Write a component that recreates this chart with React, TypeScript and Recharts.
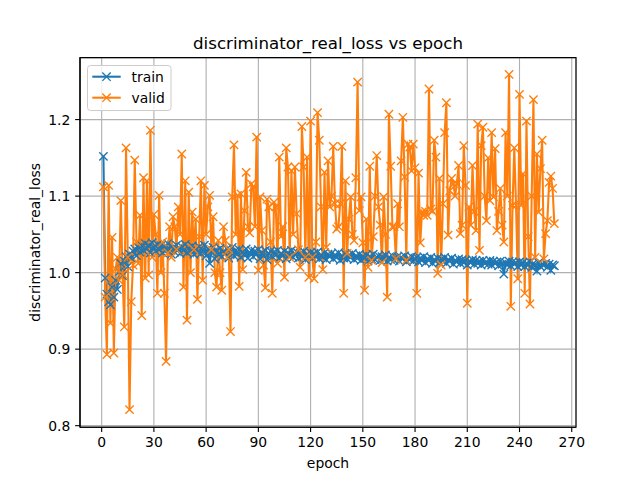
import React from 'react';
import { LineChart, Line, XAxis, YAxis, CartesianGrid, ReferenceArea, Legend, Label } from 'recharts';

const TITLE = 'discriminator_real_loss vs epoch';
const X_LABEL = 'epoch';
const Y_LABEL = 'discriminator_real_loss';

const xTicks = [0, 30, 60, 90, 120, 150, 180, 210, 240, 270];
const yTicks = [0.8, 0.9, 1.0, 1.1, 1.2];

const trainLoss = [
  1.152, 0.993, 0.972, 0.962, 0.958, 0.981, 0.968, 0.990, 0.978, 1.001,
  1.012, 0.996, 1.015, 1.021, 1.008, 1.024, 1.019, 1.028, 1.031, 1.022,
  1.033, 1.027, 1.035, 1.029, 1.038, 1.031, 1.036, 1.026, 1.039, 1.033,
  1.028, 1.037, 1.030, 1.035, 1.026, 1.034, 1.029, 1.038, 1.031, 1.024,
  1.033, 1.027, 1.036, 1.030, 1.025, 1.034, 1.029, 1.037, 1.026, 1.032,
  1.028, 1.035, 1.024, 1.031, 1.027, 1.034, 1.025, 1.030, 1.036, 1.022,
  1.031, 1.012, 1.027, 1.033, 1.018, 1.029, 1.024, 1.032, 1.021, 1.028,
  1.025, 1.031, 1.019, 1.027, 1.033, 1.022, 1.029, 1.024, 1.030, 1.020,
  1.027, 1.023, 1.031, 1.019, 1.026, 1.029, 1.021, 1.028, 1.024, 1.030,
  1.018, 1.026, 1.022, 1.029, 1.017, 1.025, 1.028, 1.021, 1.027, 1.023,
  1.029, 1.019, 1.025, 1.022, 1.028, 1.018, 1.026, 1.023, 1.029, 1.020,
  1.024, 1.027, 1.019, 1.025, 1.021, 1.028, 1.017, 1.024, 1.022, 1.026,
  1.019, 1.025, 1.021, 1.027, 1.018, 1.023, 1.020, 1.026, 1.017, 1.024,
  1.021, 1.025, 1.018, 1.023, 1.020, 1.026, 1.016, 1.022, 1.019, 1.024,
  1.018, 1.023, 1.020, 1.025, 1.017, 1.022, 1.019, 1.024, 1.016, 1.021,
  1.019, 1.023, 1.015, 1.021, 1.018, 1.024, 1.017, 1.020, 1.022, 1.016,
  1.021, 1.018, 1.023, 1.015, 1.020, 1.017, 1.022, 1.016, 1.019, 1.021,
  1.015, 1.020, 1.018, 1.022, 1.014, 1.019, 1.017, 1.021, 1.015, 1.018,
  1.020, 1.014, 1.019, 1.016, 1.021, 1.013, 1.018, 1.016, 1.020, 1.012,
  1.017, 1.015, 1.019, 1.013, 1.018, 1.016, 1.020, 1.012, 1.017, 1.015,
  1.019, 1.011, 1.016, 1.014, 1.018, 1.012, 1.017, 1.013, 1.016, 1.010,
  1.015, 1.013, 1.017, 1.011, 1.016, 1.012, 1.015, 1.010, 1.016, 1.012,
  1.014, 1.011, 1.016, 1.010, 1.015, 1.012, 1.014, 1.009, 1.015, 1.011,
  0.998, 1.013, 1.010, 1.015, 1.009, 1.014, 1.011, 1.013, 1.008, 1.014,
  1.010, 1.013, 1.008, 1.012, 1.010, 1.014, 1.007, 1.012, 1.009, 1.002,
  1.013, 1.008, 1.011, 1.010, 1.012, 1.007, 1.011, 1.003, 1.010, 1.009,
];

const validLoss = [
  1.112, 0.968, 0.893, 1.114, 0.934, 1.046, 0.895, 1.005, 1.020, 0.990,
  1.094, 0.998, 0.929, 1.163, 1.020, 0.821, 0.962, 1.010, 1.147, 1.040,
  1.012, 1.075, 0.944, 1.124, 0.993, 1.120, 0.997, 1.186, 1.020, 1.076,
  1.050, 0.973, 1.101, 1.000, 1.040, 0.973, 0.884, 1.026, 1.060, 1.020,
  1.073, 1.060, 1.030, 1.086, 1.050, 1.155, 0.981, 1.120, 0.938, 1.105,
  1.000, 1.079, 1.030, 1.070, 0.965, 1.047, 1.120, 0.990, 1.114, 1.050,
  1.086, 1.101, 1.030, 1.073, 1.000, 0.981, 1.042, 1.000, 0.977, 1.060,
  1.042, 1.020, 1.030, 0.923, 1.099, 1.167, 1.050, 1.101, 0.982, 1.103,
  1.004, 1.081, 1.131, 1.060, 1.052, 1.116, 1.112, 1.060, 1.177, 1.003,
  1.099, 1.055, 1.010, 0.980, 1.096, 1.086, 1.040, 0.973, 1.092, 1.086,
  1.012, 1.151, 1.047, 1.060, 0.994, 1.163, 1.138, 1.020, 1.133, 1.050,
  1.138, 1.077, 1.030, 1.007, 1.191, 1.138, 1.020, 1.151, 0.994, 1.198,
  1.020, 0.992, 1.040, 1.209, 1.173, 1.086, 1.004, 1.131, 1.033, 1.146,
  1.086, 1.100, 1.165, 1.090, 1.057, 1.060, 1.090, 1.165, 0.973, 1.120,
  1.025, 1.070, 1.099, 1.050, 1.042, 1.124, 1.249, 1.081, 1.099, 1.039,
  0.977, 1.070, 1.007, 1.139, 1.016, 1.047, 1.100, 1.153, 1.086, 1.062,
  1.013, 1.099, 1.050, 0.968, 1.207, 1.139, 1.060, 1.060, 1.018, 1.090,
  1.060, 1.146, 1.203, 1.125, 1.016, 1.168, 1.164, 1.133, 1.168, 1.137,
  0.973, 1.130, 1.039, 1.079, 1.075, 1.080, 1.075, 1.240, 1.083, 1.080,
  1.173, 1.151, 0.999, 1.123, 1.010, 1.090, 1.183, 1.222, 1.049, 1.107,
  1.123, 1.116, 1.100, 1.116, 1.140, 1.051, 1.062, 1.166, 1.114, 0.960,
  1.086, 1.062, 1.140, 1.080, 1.055, 1.194, 1.029, 1.166, 1.190, 1.100,
  1.068, 1.150, 1.094, 1.183, 1.099, 1.162, 1.055, 1.080, 1.110, 1.062,
  1.040, 1.183, 1.100, 1.259, 0.956, 1.088, 1.163, 1.088, 0.992, 1.233,
  1.088, 1.129, 0.973, 1.198, 1.047, 0.959, 1.100, 1.226, 1.020, 1.155,
  1.079, 1.136, 1.173, 1.018, 1.051, 1.068, 1.118, 1.126, 1.110, 1.064,
];

const SERIES = [
  { key: 'train', color: '#1f77b4' },
  { key: 'valid', color: '#ff7f0e' },
];

const data = trainLoss.map((t, i) => ({ epoch: i + 1, train: t, valid: validLoss[i] }));

const X_DOMAIN: [number, number] = [-12.45, 272.45];
const Y_DOMAIN: [number, number] = [0.798, 1.281];

const FONT = 'DejaVu Sans';
const MARKER_R = 4.17;

const makeMarker = (color: string) => (props: any) => {
  const { cx, cy, index } = props;
  if (cx == null || cy == null) return <g key={`m-${index}`} />;
  const r = MARKER_R;
  return (
    <path
      key={`m-${color}-${index}`}
      d={`M${cx - r},${cy - r}L${cx + r},${cy + r}M${cx - r},${cy + r}L${cx + r},${cy - r}`}
      stroke={color}
      strokeWidth={1.39}
      fill="none"
    />
  );
};

const renderLegend = () => (
  <svg width={85} height={47} style={{ display: 'block' }}>
    <rect x={0.5} y={0.5} width={83.5} height={45} rx={3} ry={3} fill="#ffffff" fillOpacity={0.8} stroke="#cccccc" strokeWidth={1} />
    {SERIES.map((s, i) => {
      const y = 11.7 + i * 21;
      const cx = 19.5;
      const r = MARKER_R;
      return (
        <g key={s.key}>
          <line x1={5.3} x2={33.7} y1={y} y2={y} stroke={s.color} strokeWidth={2.08} />
          <path d={`M${cx - r},${y - r}L${cx + r},${y + r}M${cx - r},${y + r}L${cx + r},${y - r}`} stroke={s.color} strokeWidth={1.39} fill="none" />
          <text x={44.5} y={y + 4.8} fontSize={13.9} fontFamily={FONT} fill="#000">{s.key}</text>
        </g>
      );
    })}
  </svg>
);

export default function App() {
  return (
    <div style={{ position: 'absolute', left: 0, top: 0, width: 640, height: 480, background: '#fff' }}>
      <LineChart
        width={640}
        height={480}
        data={data}
        margin={{ top: 57.6, right: 64, bottom: 0, left: 0 }}
        style={{ fontFamily: FONT }}
      >
        <CartesianGrid stroke="#b0b0b0" strokeWidth={1.11} />
        <XAxis
          dataKey="epoch"
          type="number"
          domain={X_DOMAIN}
          ticks={xTicks}
          allowDataOverflow
          height={52.8}
          tickSize={4.86}
          tickMargin={4.86}
          interval={0}
          axisLine={{ stroke: '#000', strokeWidth: 1.11 }}
          tickLine={{ stroke: '#000', strokeWidth: 1.11 }}
          tick={{ fill: '#000', fontSize: 13.9, fontFamily: FONT }}
        >
          <Label value={X_LABEL} position="insideBottom" offset={12} fill="#000" fontSize={13.9} fontFamily={FONT} />
        </XAxis>
        <YAxis
          type="number"
          domain={Y_DOMAIN}
          ticks={yTicks}
          allowDataOverflow
          width={80}
          tickSize={4.86}
          tickMargin={4.86}
          interval={0}
          tickFormatter={(v: number) => v.toFixed(1)}
          axisLine={{ stroke: '#000', strokeWidth: 1.11 }}
          tickLine={{ stroke: '#000', strokeWidth: 1.11 }}
          tick={{ fill: '#000', fontSize: 13.9, fontFamily: FONT }}
        >
          <Label
            content={() => (
              <text
                x={35}
                y={242.4}
                transform="rotate(-90, 35, 242.4)"
                textAnchor="middle"
                dominantBaseline="central"
                fontSize={13.9}
                fontFamily={FONT}
                fill="#000"
              >
                {Y_LABEL}
              </text>
            )}
          />
        </YAxis>
        {SERIES.map((s) => (
          <Line
            key={s.key}
            type="linear"
            dataKey={s.key}
            stroke={s.color}
            strokeWidth={2.08}
            dot={makeMarker(s.color)}
            activeDot={false}
            isAnimationActive={false}
          />
        ))}
        <ReferenceArea
          x1={X_DOMAIN[0]}
          x2={X_DOMAIN[1]}
          y1={Y_DOMAIN[0]}
          y2={Y_DOMAIN[1]}
          fill="none"
          fillOpacity={0}
          stroke="#000"
          strokeWidth={1.11}
          ifOverflow="visible"
          label={{ value: TITLE, position: 'top', offset: 8.3, fontSize: 16.67, fill: '#000', fontFamily: FONT }}
        />
        <Legend
          layout="vertical"
          align="center"
          verticalAlign="middle"
          content={renderLegend}
          wrapperStyle={{ left: 87, top: 65, width: 85, height: 47 }}
        />
      </LineChart>
    </div>
  );
}
